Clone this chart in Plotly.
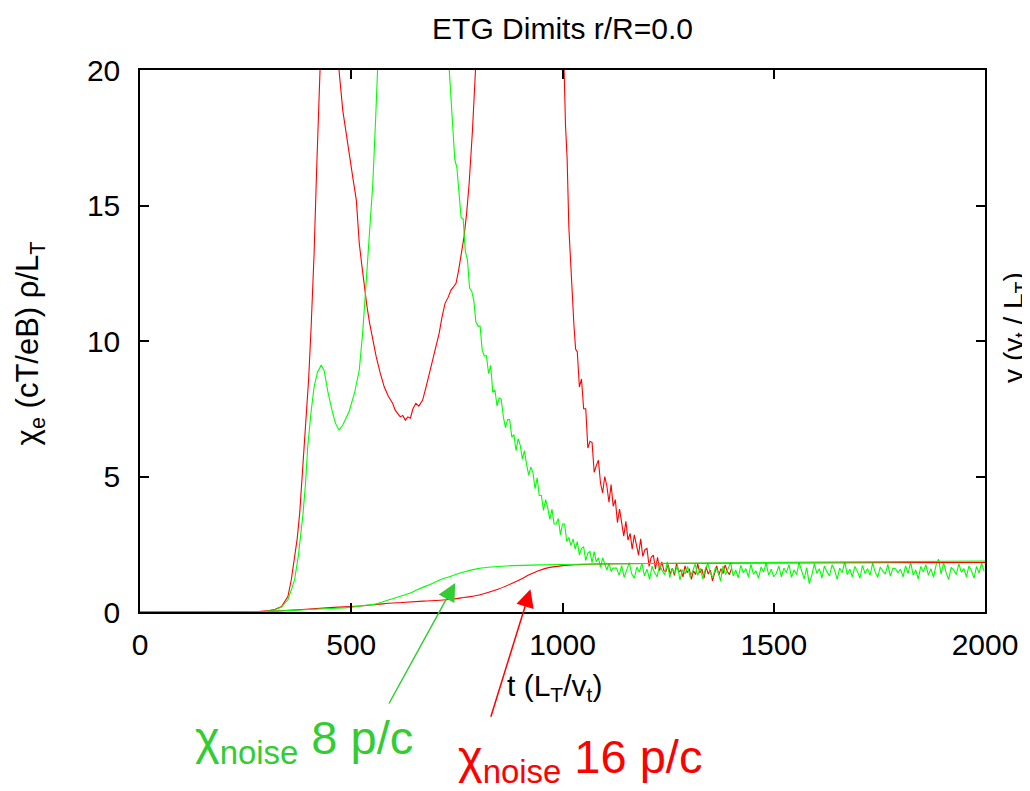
import plotly.graph_objects as go

# ---------------- data ----------------
# chi_e, 8 particles per cell (green)
chi8_t_a = [0, 100, 200, 260, 280, 300, 320, 335, 350, 360, 366, 375, 386, 392, 397, 405, 412, 420,
            429, 436, 445, 455, 463, 471, 480, 495, 508, 519, 527, 535, 543, 551, 558, 563, 575,
            600, 650, 700, 720, 732]
chi8_a = [0, 0, 0, 0.003, 0.01, 0.03, 0.08, 0.18, 0.45, 0.9, 1.2, 2.1, 3.65, 4.8, 6.1, 7.4, 8.3, 8.85,
          9.11, 8.9, 8.1, 7.4, 6.95, 6.72, 6.9, 7.4, 8.1, 8.93, 10.3, 12.1, 13.9, 15.8, 18.3, 20.2, 26,
          38, 55, 38, 26, 20]
chi8_t_b = [740, 745, 750, 755, 760, 765, 770, 775, 780, 785, 790, 795, 800, 805, 810, 815, 820, 825,
            830, 835, 840, 845, 850, 855, 860, 865, 870, 875, 880, 885, 890, 895, 900, 905, 910, 915,
            920, 925, 930, 935, 940, 945, 950, 955, 960, 965, 970, 975, 980, 985, 990, 995, 1000,
            1005, 1010, 1015, 1020, 1025, 1030, 1035, 1040, 1045, 1050, 1055, 1060, 1065, 1070,
            1075, 1080, 1085, 1090, 1095, 1100, 1105, 1110, 1115, 1120]
chi8_b = [17.9, 16.7, 16.4, 15.55, 14.55, 14.5, 13.3, 13.0, 11.95, 11.85, 11.5, 10.7, 10.55, 10.55,
          9.65, 9.45, 9.45, 8.8, 9.1, 8.1, 8.2, 7.6, 7.9, 7.85, 7.2, 6.8, 7.1, 7.1, 6.45, 6.55, 5.95,
          6.4, 6.15, 5.65, 5.95, 5.45, 5.05, 5.35, 5.15, 4.55, 4.95, 4.3, 4.3, 3.75, 4.15, 3.85, 3.42,
          3.8, 3.25, 3.25, 3.45, 2.85, 3.25, 3.25, 2.6, 2.75, 2.45, 2.7, 2.32, 2.6, 2.1, 2.35, 2.4,
          1.9, 2.17, 2.23, 1.82, 2.23, 1.85, 2.0, 1.65, 2.0, 1.8, 1.55, 1.8, 1.5, 1.62]
chi8_steady_t0 = 1128
chi8_steady_dt = 6
chi8_c = [1.62, 1.35, 1.71, 1.28, 1.55, 1.82, 1.4, 1.25, 1.66, 1.48, 1.79, 1.33, 1.58, 1.2, 1.69,
          1.45, 1.3, 1.74, 1.52, 1.38, 1.85, 1.27, 1.6, 1.43, 1.72, 1.18, 1.56, 1.4,
          1.68, 1.3, 1.5, 1.77, 1.35, 1.62, 1.22, 1.58, 1.8, 1.42, 1.28, 1.65, 1.5, 1.15, 1.7,
          1.38, 1.6, 1.83, 1.33, 1.55, 1.26, 1.72, 1.45, 1.6, 1.3, 1.76, 1.4, 1.52,
          1.24, 1.66, 1.48, 1.8, 1.36, 1.58, 1.3, 1.42, 1.7, 1.3, 1.62, 1.45, 1.75, 1.28, 1.55,
          1.38, 1.82, 1.47, 1.22, 1.64, 1.05, 1.35, 1.78, 1.43, 1.6, 1.25, 1.7, 1.48,
          1.33, 1.74, 1.55, 1.2, 1.62, 1.45, 1.86, 1.38, 1.58, 1.3, 1.68, 1.5, 1.25, 1.72, 1.42,
          1.6, 1.35, 1.8, 1.48, 1.28, 1.66, 1.52, 1.4, 1.76, 1.32, 1.62, 1.6, 1.45,
          1.58, 1.3, 1.7, 1.42, 1.84, 1.36, 1.55, 1.22, 1.68, 1.48, 1.75, 1.35, 1.6, 1.28, 1.72,
          1.95, 1.4, 1.82, 1.45, 1.2, 1.65, 1.55, 1.38, 1.78, 1.47, 1.6, 1.3, 1.7, 1.52, 1.25,
          1.68, 1.44, 1.8, 1.5]

# chi_e, 16 particles per cell (red)
chi16_t_a = [0, 100, 200, 250, 280, 300, 320, 335, 345, 350, 358, 365, 372, 378, 383, 387, 393, 399,
             405, 412, 418, 425, 435, 448, 460, 471, 480, 488, 496, 504, 512, 519, 525, 531, 537,
             543, 551, 559, 568, 578, 588, 598, 604, 610, 616, 622, 628, 634, 640, 646, 653, 660,
             669, 677, 685, 697, 708, 715, 722, 729, 736, 742, 748, 754, 760, 767, 773, 779, 787,
             795, 820, 900, 980, 1003, 1007, 1011, 1015, 1019, 1023, 1027, 1031]
chi16_a = [0, 0, 0, 0.003, 0.015, 0.04, 0.1, 0.2, 0.42, 0.57, 1.18, 1.9, 2.7, 3.65, 4.8, 6.1, 7.3,
           8.56, 10.5, 13.2, 16.3, 20.3, 26, 30, 26, 20, 18.5, 17.6, 16.8, 16.0, 15.2, 13.6, 12.8,
           12.0, 11.3, 10.7, 10.0, 9.42, 8.85, 8.31, 7.95, 7.7, 7.45, 7.33, 7.2, 7.25, 7.08, 7.2,
           7.15, 7.5, 7.7, 7.6, 7.82, 8.3, 8.81, 9.6, 10.28, 10.9, 11.39, 11.6, 11.88, 12.0, 12.13,
           12.6, 13.11, 13.85, 14.7, 15.8, 17.8, 20.3, 35, 60, 35, 20.0, 18.0, 16.7, 14.2, 13.0,
           11.6, 10.6, 9.7]
chi16_t_b = [1035, 1040, 1045, 1050, 1055, 1060, 1065, 1070, 1075, 1080, 1085, 1090, 1095, 1100,
             1105, 1110, 1115, 1120, 1125, 1130, 1135, 1140, 1145, 1150, 1155, 1160, 1165, 1170,
             1175, 1180, 1185, 1190, 1195, 1200, 1205, 1210, 1215, 1220, 1225, 1230, 1235, 1240]
chi16_b = [9.6, 8.3, 8.6, 7.5, 7.5, 6.05, 6.3, 6.25, 5.15, 5.4, 5.6, 4.75, 4.4, 5.0, 4.65, 4.05, 4.7,
           3.9, 4.15, 3.3, 3.8, 3.3, 2.8, 3.35, 2.65, 2.9, 2.32, 2.85, 2.47, 2.1, 2.7, 2.05, 2.3, 2.35,
           1.68, 2.02, 2.1, 1.58, 2.02, 1.53, 1.85, 1.52]
chi16_steady_t0 = 1245
chi16_steady_dt = 5
chi16_c = [1.5, 1.75, 1.4, 1.62, 1.35, 1.8, 1.48, 1.55, 1.3, 1.7, 1.45, 1.6, 1.2, 1.52, 1.38, 1.78,
           1.44, 1.58, 1.25, 1.66, 1.4, 1.55, 1.15, 1.48, 1.7, 1.36, 1.6, 1.42, 1.74, 1.5, 1.38, 1.6]

# chi_noise curves (smooth)
noise8_t = [0, 200, 260, 300, 350, 400, 450, 496, 530, 560, 575, 600, 620, 638, 660, 693, 712, 732,
            760, 803, 840, 881, 950, 1039, 1200, 1500, 1800, 2000]
noise8 = [0, 0, 0.005, 0.02, 0.05, 0.09, 0.13, 0.17, 0.24, 0.3, 0.38, 0.5, 0.6, 0.69, 0.85, 1.06,
          1.2, 1.3, 1.45, 1.61, 1.67, 1.71, 1.74, 1.76, 1.79, 1.83, 1.86, 1.88]
noise16_t = [0, 200, 260, 300, 350, 400, 450, 496, 530, 575, 620, 670, 724, 760, 803, 840, 881, 900,
             921, 940, 960, 1000, 1040, 1078, 1200, 1500, 2000]
noise16 = [0, 0, 0.005, 0.02, 0.06, 0.11, 0.16, 0.2, 0.23, 0.3, 0.35, 0.4, 0.45, 0.52, 0.63, 0.8,
           1.06, 1.2, 1.37, 1.5, 1.61, 1.71, 1.75, 1.77, 1.79, 1.81, 1.83]

x_ticks = [0, 500, 1000, 1500, 2000]
y_ticks = [0, 5, 10, 15, 20]

# ---------------- assemble ----------------
chi8_t = chi8_t_a + chi8_t_b + [chi8_steady_t0 + chi8_steady_dt * i for i in range(len(chi8_c))]
chi8 = chi8_a + chi8_b + chi8_c
chi16_t = chi16_t_a + chi16_t_b + [chi16_steady_t0 + chi16_steady_dt * i for i in range(len(chi16_c))]
chi16 = chi16_a + chi16_b + chi16_c

RED = "#ff0000"
GREEN = "#00ff00"
TXT_GREEN = "#33cc33"
FONT = "Liberation Sans, Arial, Helvetica, sans-serif"

fig = go.Figure()
fig.add_trace(go.Scatter(x=chi16_t, y=chi16, mode="lines", line=dict(color=RED, width=1.1), showlegend=False))
fig.add_trace(go.Scatter(x=chi8_t, y=chi8, mode="lines", line=dict(color=GREEN, width=1.1), showlegend=False))
fig.add_trace(go.Scatter(x=noise16_t, y=noise16, mode="lines", line=dict(color=RED, width=1.1, shape="spline"), showlegend=False))
fig.add_trace(go.Scatter(x=noise8_t, y=noise8, mode="lines", line=dict(color=GREEN, width=1.1, shape="spline"), showlegend=False))

# page body has an 8px margin: figure occupies screen x 8..1030, y 8..791
OFF = 8
W, H = 1030 - OFF, 791 - OFF
PX0, PX1, PY0, PY1 = 140, 988, 70, 612   # plot area in screen pixels
L, R, T, B = PX0 - OFF, 1030 - PX1, PY0 - OFF, 791 - PY1

def px2paper(px, py):
    return (px - PX0) / (PX1 - PX0), (PY1 - py) / (PY1 - PY0)

axis_common = dict(showline=True, linecolor="black", linewidth=1.5, mirror="ticks", ticks="inside",
                   ticklen=9, tickwidth=1.5, tickcolor="black", showgrid=False, zeroline=False,
                   tickfont=dict(family=FONT, size=30, color="black"))

fig.update_layout(
    width=W, height=H,
    margin=dict(l=L, r=R, t=T, b=B),
    paper_bgcolor="white", plot_bgcolor="white",
    title=dict(text="ETG Dimits r/R=0.0", font=dict(family=FONT, size=30, color="black"),
               x=0.5, xref="paper", xanchor="center", y=1 - (28 - OFF) / H, yanchor="middle"),
    xaxis=dict(range=[0, 2000], tickvals=x_ticks, ticktext=[str(v) for v in x_ticks],
               ticklabelstandoff=5, **axis_common),
    yaxis=dict(range=[0, 20], tickvals=y_ticks, ticktext=[str(v) for v in y_ticks],
               ticklabelstandoff=12, **axis_common),
)

ann = []
# axis labels
x, y = px2paper(556, 688)
ann.append(dict(text="t (L<sub>T</sub>/v<sub>t</sub>)", x=x, y=y, xref="paper", yref="paper",
                showarrow=False, font=dict(family=FONT, size=30, color="black"),
                xanchor="center", yanchor="middle"))
x, y = px2paper(30, 343)
ann.append(dict(text="χ<sub>e</sub> (cT/eB) ρ/L<sub>T</sub>", x=x, y=y, xref="paper", yref="paper",
                showarrow=False, textangle=-90, font=dict(family=FONT, size=31, color="black"),
                xanchor="center", yanchor="middle"))
x, y = px2paper(1018, 327)
ann.append(dict(text="γ (v<sub>t</sub> / L<sub>T</sub>)", x=x, y=y, xref="paper", yref="paper",
                showarrow=False, textangle=-90, font=dict(family=FONT, size=28, color="black"),
                xanchor="center", yanchor="middle"))

# arrows
ann.append(dict(text="", x=746, y=1.07, xref="x", yref="y", showarrow=True, ax=-67, ay=122,
                arrowhead=2, arrowsize=2.4, arrowwidth=1.5, arrowcolor=TXT_GREEN))
ann.append(dict(text="", x=924, y=0.84, xref="x", yref="y", showarrow=True, ax=-40, ay=129,
                arrowhead=2, arrowsize=2.4, arrowwidth=1.5, arrowcolor=RED))

# labels
x, y = px2paper(193, 741)
ann.append(dict(text="χ<sub>noise</sub> 8 p/c", x=x, y=y, xref="paper", yref="paper",
                showarrow=False, font=dict(family=FONT, size=47, color=TXT_GREEN),
                xanchor="left", yanchor="middle"))
x, y = px2paper(457, 760)
ann.append(dict(text="χ<sub>noise</sub> 16 p/c", x=x, y=y, xref="paper", yref="paper",
                showarrow=False, font=dict(family=FONT, size=47, color=RED),
                xanchor="left", yanchor="middle"))

fig.update_layout(annotations=ann)
fig.write_html("out.html")
